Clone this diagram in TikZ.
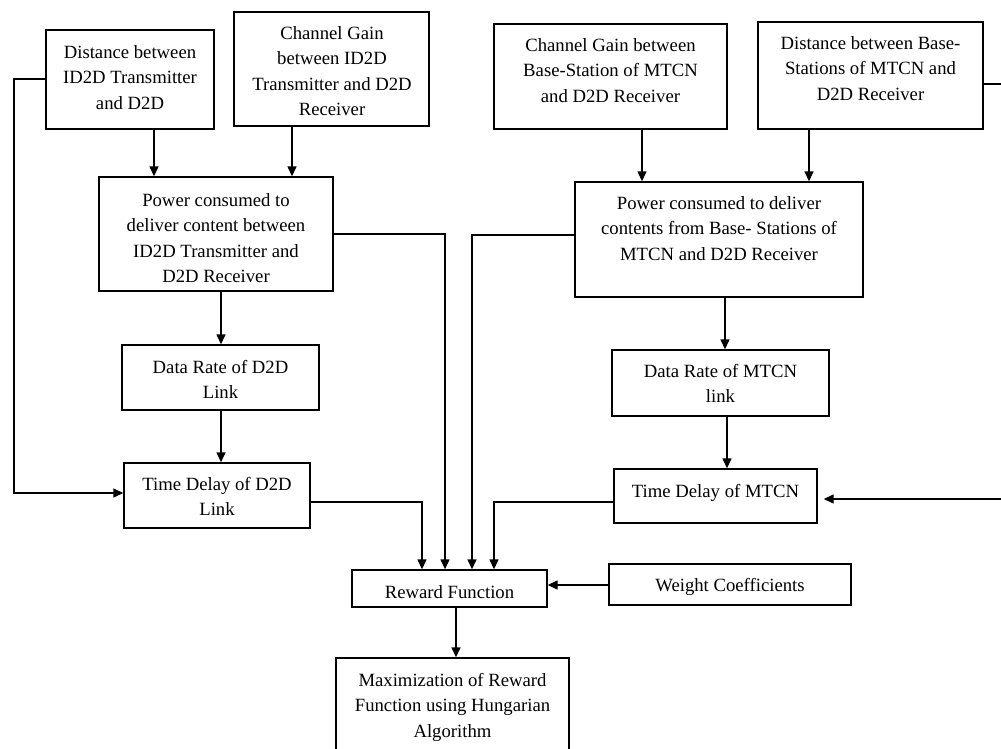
\documentclass[tikz,border=0pt]{standalone}
\usepackage{fontspec}
\setmainfont{Liberation Serif}
\usetikzlibrary{arrows.meta,fit}
\begin{document}
\begin{tikzpicture}[x=1pt,y=-1pt,
  box/.style={draw=black, line width=1.4pt, inner sep=0pt, fill=none},
  txt/.style={anchor=north, inner sep=0pt, align=center, font=\fontsize{18.7}{25.5}\selectfont},
  line/.style={draw=black, line width=1.4pt},
  arr/.style={line, -{Triangle[length=10pt,width=9pt]}}]
\useasboundingbox (0,0) rectangle (1001,749);
\fill[white] (0,0) rectangle (1001,749);
\clip (0,0) rectangle (1001,749);

% boxes
\node[box, fit={(46,30)(214,129)}] (A) {};
\node[box, fit={(234,12)(429,126)}] (B) {};
\node[box, fit={(99,177)(333,291)}] (P1) {};
\node[box, fit={(122,345)(319,410)}] (DR1) {};
\node[box, fit={(124,463)(310,528)}] (TD1) {};
\node[box, fit={(494,24)(727,129)}] (C) {};
\node[box, fit={(758,22)(983,129)}] (D) {};
\node[box, fit={(575,182)(863,297)}] (P2) {};
\node[box, fit={(612,350)(829,416)}] (DR2) {};
\node[box, fit={(614,469)(817,523)}] (TD2) {};
\node[box, fit={(352,570)(547,607)}] (Rw) {};
\node[box, fit={(609,564)(851,605)}] (Wt) {};
\node[box, fit={(336,658)(569,770)}] (Mx) {};

% texts
\node[txt] (tA) at (130,45) {Distance between\\ID2D Transmitter\\and D2D};
\node[txt] (tB) at (332,26) {Channel Gain\\between ID2D\\Transmitter and D2D\\Receiver};
\node[txt] (tP1) at (216,193) {Power consumed to\\deliver content between\\ID2D Transmitter and\\D2D Receiver};
\node[txt] (tDR1) at (220.5,360) {Data Rate of D2D\\Link};
\node[txt] (tTD1) at (217,477) {Time Delay of D2D\\Link};
\node[txt] (tC) at (610.5,38) {Channel Gain between\\Base-Station of MTCN\\and D2D Receiver};
\node[txt] (tD) at (870.5,36) {Distance between Base-\\Stations of MTCN and\\D2D Receiver};
\node[txt] (tP2) at (719,196) {Power consumed to deliver\\contents from Base- Stations of\\MTCN and D2D Receiver};
\node[txt] (tDR2) at (720.5,364) {Data Rate of MTCN\\link};
\node[txt] (tTD2) at (715.5,484) {Time Delay of MTCN};
\node[txt] (tRw) at (449.5,585) {Reward Function};
\node[txt] (tWt) at (730,578) {Weight Coefficients};
\node[txt] (tMx) at (452.5,673) {Maximization of Reward\\Function using Hungarian\\Algorithm};

% helper coordinates
\coordinate (L1) at (14,79);
\coordinate (L2) at (14,493);
\coordinate (R1) at (1012,84);
\coordinate (R2) at (1012,499);

% connectors
\draw[arr] (A.south -| 154,0) -- (P1.north -| 154,0);
\draw[arr] (B.south -| 292,0) -- (P1.north -| 292,0);
\draw[arr] (P1.south -| 221,0) -- (DR1.north -| 221,0);
\draw[arr] (DR1.south -| 221,0) -- (TD1.north -| 221,0);
\draw[arr] (A.west |- L1) -- (L1) -- (L2) -- (TD1.west |- L2);

\draw[arr] (C.south -| 642,0) -- (P2.north -| 642,0);
\draw[arr] (D.south -| 809,0) -- (P2.north -| 809,0);
\draw[arr] (P2.south -| 725,0) -- (DR2.north -| 725,0);
\draw[arr] (DR2.south -| 727,0) -- (TD2.north -| 727,0);
\draw[arr, shorten >=6pt] (D.east |- R1) -- (R1) -- (R2) -- (TD2.east |- R2);

\draw[arr] (TD1.east |- 0,502) -| (Rw.north -| 422,0);
\draw[arr] (P1.east |- 0,234) -| (Rw.north -| 445,0);
\draw[arr] (P2.west |- 0,235) -| (Rw.north -| 472,0);
\draw[arr] (TD2.west |- 0,502) -| (Rw.north -| 494,0);
\draw[arr] (Wt.west |- 0,585) -- (Rw.east |- 0,585);
\draw[arr] (Rw.south -| 456,0) -- (Mx.north -| 456,0);
\end{tikzpicture}
\end{document}
